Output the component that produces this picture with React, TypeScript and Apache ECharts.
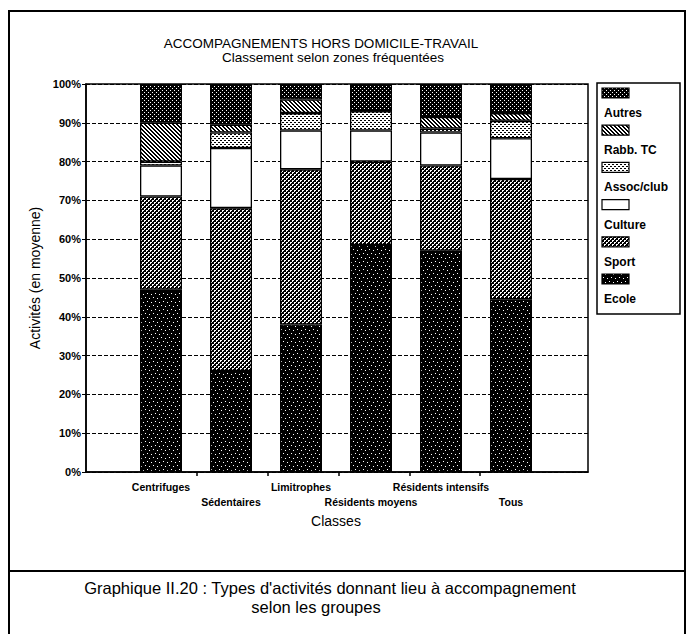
import React, { useEffect, useRef } from 'react';
import * as echarts from 'echarts';

const categories = ['Centrifuges', 'Sédentaires', 'Limitrophes', 'Résidents moyens', 'Résidents intensifs', 'Tous'];
const seriesNames = ['Ecole', 'Sport', 'Culture', 'Assoc/club', 'Rabb. TC', 'Autres'];
const ecole = [47, 26, 38, 58.5, 57, 44.5];
const sport = [24, 42, 40, 21.5, 22, 31];
const culture = [8, 15.5, 10, 8, 8.5, 10.5];
const assocClub = [1, 4, 4.5, 5, 1, 4.5];
const rabbTC = [10, 2, 3.5, 0, 3, 2];
const autres = [10, 10.5, 4, 7, 8.5, 7.5];
const seriesValues = [ecole, sport, culture, assocClub, rabbTC, autres];

const titleLines = ['ACCOMPAGNEMENTS HORS DOMICILE-TRAVAIL', 'Classement selon zones fréquentées'];
const captionLines = ["Graphique II.20 : Types d'activités donnant lieu à accompagnement", 'selon les groupes'];
const yAxisName = 'Activités (en moyenne)';
const xAxisName = 'Classes';

const FONT = "'Liberation Sans', Arial, Helvetica, sans-serif";

function tile(size: number, bg: string, fg: string, pixels: number[][]) {
  const c = document.createElement('canvas');
  c.width = size;
  c.height = size;
  const ctx = c.getContext('2d') as CanvasRenderingContext2D;
  ctx.fillStyle = bg;
  ctx.fillRect(0, 0, size, size);
  ctx.fillStyle = fg;
  pixels.forEach(([x, y]) => ctx.fillRect(x, y, 1, 1));
  return { image: c.toDataURL(), repeat: 'repeat', imageWidth: size, imageHeight: size } as any;
}

function makePatterns() {
  const ecoleP = tile(8, '#000', '#fff', [[1, 1], [5, 2], [3, 5], [7, 6]]);
  const sportP = tile(4, '#000', '#fff', [[0, 0], [1, 0], [0, 1], [2, 2], [3, 2], [2, 3]]);
  const cultureP = '#ffffff';
  const assocP = tile(4, '#fff', '#000', [[0, 0], [1, 0], [2, 2], [3, 2]]);
  const rabbP = tile(4, '#fff', '#000', [[0, 0], [1, 1], [2, 2], [3, 3], [1, 0], [2, 1], [3, 2], [0, 3]]);
  const autresP = tile(4, '#000', '#fff', [[0, 0], [2, 2]]);
  return [ecoleP, sportP, cultureP, assocP, rabbP, autresP];
}

export default function App() {
  const ref = useRef<HTMLDivElement>(null);
  useEffect(() => {
    document.body.style.margin = '0';
    if (!ref.current) return;
    const chart = echarts.init(ref.current, undefined, { renderer: 'svg' });
    const patterns = makePatterns();

    const gridTop = 84;
    const gridHeight = 388;

    const legendGraphics: any[] = [];
    legendGraphics.push({
      type: 'rect',
      shape: { x: 597, y: 83, width: 83, height: 231 },
      style: { fill: 'none', stroke: '#000', lineWidth: 1.5 },
    });
    for (let k = 0; k < seriesNames.length; k++) {
      const idx = seriesNames.length - 1 - k;
      const top = 88 + k * 37.2;
      legendGraphics.push({
        type: 'rect',
        shape: { x: 602, y: top, width: 27, height: 10 },
        style: { fill: patterns[idx], stroke: '#000', lineWidth: 1.2 },
      });
      legendGraphics.push({
        type: 'text',
        x: 604,
        y: top + 25,
        style: {
          text: seriesNames[idx],
          fill: '#000',
          fontSize: 12,
          fontWeight: 'bold',
          fontFamily: FONT,
          align: 'left',
          verticalAlign: 'middle',
        },
      });
    }

    const textEl = (text: string, x: number, y: number, size: number) => ({
      type: 'text',
      x,
      y,
      style: { text, fill: '#000', fontSize: size, fontFamily: FONT, align: 'center', verticalAlign: 'middle' },
    });

    const option: any = {
      animation: false,
      backgroundColor: '#fff',
      grid: [
        { left: 86, top: gridTop, width: 502, height: gridHeight, show: true, borderColor: '#000', borderWidth: 1.5, backgroundColor: 'transparent' },
        { left: 126, top: gridTop, width: 420, height: gridHeight },
        { left: 197, top: gridTop, width: 283, height: gridHeight },
      ],
      xAxis: [
        {
          gridIndex: 0, type: 'value', min: 0, max: 1,
          axisLine: { show: true, lineStyle: { color: '#000', width: 1.5 } },
          axisTick: { show: false }, axisLabel: { show: false }, splitLine: { show: false },
        },
        {
          gridIndex: 1, type: 'category', data: categories,
          axisLine: { show: false }, axisTick: { show: false },
          axisLabel: {
            interval: 0, margin: 7, color: '#000', fontSize: 10.5, fontWeight: 'bold', fontFamily: FONT, lineHeight: 15,
            formatter: (v: string, i: number) => (i % 2 === 1 ? '\n' + v : v),
          },
          name: xAxisName, nameLocation: 'middle', nameGap: 36,
          nameTextStyle: { color: '#000', fontSize: 14, fontFamily: FONT },
        },
        {
          gridIndex: 2, type: 'category', data: ['a', 'b', 'c', 'd', 'e'], boundaryGap: false,
          axisLine: { show: false }, axisLabel: { show: false },
          axisTick: { show: true, length: 4, lineStyle: { color: '#000', width: 1.5 } },
          splitLine: { show: false },
        },
      ],
      yAxis: [
        {
          gridIndex: 0, type: 'value', min: 0, max: 100, interval: 10,
          axisLine: { show: true, lineStyle: { color: '#000', width: 1.5 } },
          axisTick: { show: true, length: 4, lineStyle: { color: '#000', width: 1 } },
          axisLabel: { formatter: '{value}%', color: '#000', fontSize: 11, fontWeight: 'bold', fontFamily: FONT, margin: 5 },
          splitLine: { show: true, lineStyle: { color: '#000', width: 1, type: [4, 2] } },
          name: yAxisName, nameLocation: 'middle', nameGap: 41,
          nameTextStyle: { color: '#000', fontSize: 14, fontFamily: FONT },
        },
        { gridIndex: 1, type: 'value', min: 0, max: 100, show: false },
        { gridIndex: 2, type: 'value', min: 0, max: 100, show: false },
      ],
      series: seriesNames.map((name, i) => ({
        name,
        type: 'bar',
        stack: 'total',
        xAxisIndex: 1,
        yAxisIndex: 1,
        barWidth: 42,
        data: seriesValues[i],
        itemStyle: { color: patterns[i], borderColor: '#000', borderWidth: 1.3 },
      })),
      graphic: [
        {
          type: 'rect',
          shape: { x: 9, y: 11, width: 676, height: 700 },
          style: { fill: 'none', stroke: '#000', lineWidth: 2 },
        },
        {
          type: 'line',
          shape: { x1: 9, y1: 571, x2: 685, y2: 571 },
          style: { stroke: '#000', lineWidth: 2 },
        },
        textEl(titleLines[0], 321, 43, 13.5),
        textEl(titleLines[1], 333, 57, 13.5),
        textEl(captionLines[0], 330, 588, 16.5),
        textEl(captionLines[1], 316, 607, 16.5),
        ...legendGraphics,
      ],
    };
    chart.setOption(option);
    return () => chart.dispose();
  }, []);
  return <div ref={ref} style={{ width: 689, height: 634 }} />;
}
